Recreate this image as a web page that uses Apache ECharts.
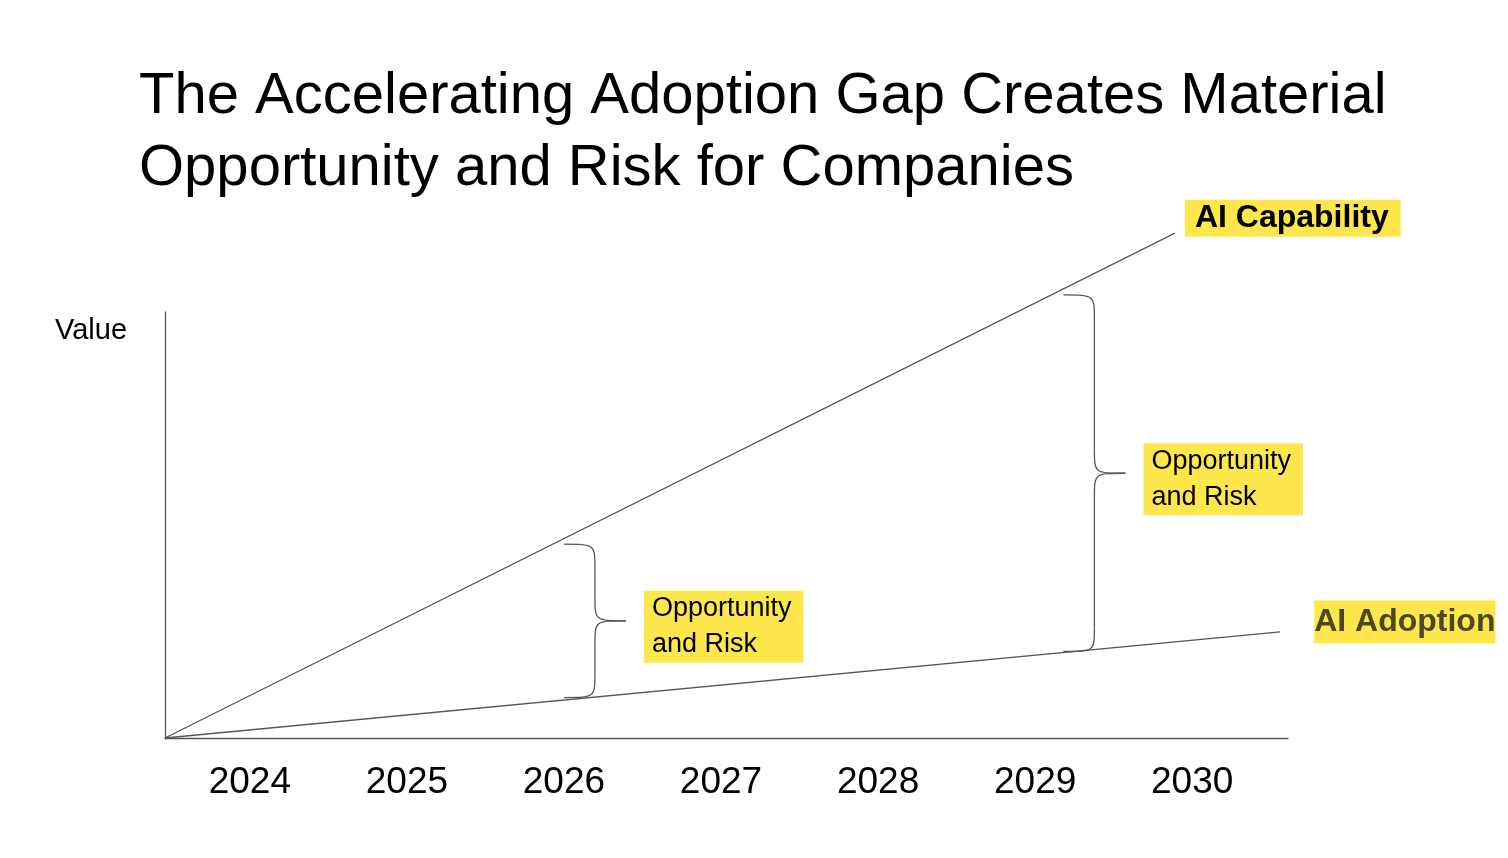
<!DOCTYPE html>
<html><head><meta charset="utf-8">
<script src="https://cdn.jsdelivr.net/npm/echarts@6/dist/echarts.min.js"></script>
<style>html,body{margin:0;background:#fff}#main{width:1508px;height:858px}</style>
</head><body><div id="main"></div>
<script>
var years = [2024, 2025, 2026, 2027, 2028, 2029, 2030];
var capability = [[2023.46, 0], [2029.89, 118.5]];
var adoption = [[2023.46, 0], [2030.56, 24.9]];
// braces: [x year, bottom value, top value]
var braces = [[2026.0, 9.5, 45.5], [2029.18, 20.3, 104]];
var braceLabels = ['Opportunity\nand Risk', 'Opportunity\nand Risk'];

var myChart = echarts.init(document.getElementById('main'));
var font = 'Liberation Sans, Arial, sans-serif';
var lineStyle = {color: '#555', width: 1.3};
var option = {
    animation: false,
    title: {
        text: 'The Accelerating Adoption Gap Creates Material\nOpportunity and Risk for Companies',
        left: 134, top: 56,
        textStyle: {fontFamily: font, fontSize: 58, fontWeight: 'normal', color: '#000', lineHeight: 72}
    },
    grid: {left: 165, right: 220, top: 312, bottom: 120},
    xAxis: {
        type: 'value', min: 2023.46, max: 2030.61,
        splitLine: {show: false},
        axisLine: {lineStyle: lineStyle},
        axisTick: {show: false},
        axisLabel: {customValues: years, formatter: function (v) { return String(Math.round(v)); },
            fontFamily: font, fontSize: 37, color: '#000', margin: 26}
    },
    yAxis: {
        type: 'value', min: 0, max: 100,
        splitLine: {show: false},
        axisLine: {show: true, lineStyle: lineStyle},
        axisTick: {show: false}, axisLabel: {show: false}
    },
    series: [{
        type: 'line', data: capability, symbol: 'none', clip: false, lineStyle: lineStyle,
        endLabel: {show: true, formatter: 'AI Capability', fontFamily: font, fontSize: 32, fontWeight: 'bold',
            color: '#000', backgroundColor: '#fde74c', padding: [3, 12, 2, 10], offset: [2, -15]}
    }, {
        type: 'line', data: adoption, symbol: 'none', clip: false, lineStyle: lineStyle,
        endLabel: {show: true, formatter: 'AI Adoption', fontFamily: font, fontSize: 32, fontWeight: 'bold',
            color: '#4d4822', backgroundColor: '#fde74c', padding: [6, 0, 5, 0], offset: [26, -10]}
    }]
};
myChart.setOption(option);

var stroke = {fill: null, stroke: '#555', lineWidth: 1.3};
function brace(x, yTop, yBot, w) {
    var yMid = (yTop + yBot) / 2, h = w / 2, r = Math.min(24, (yBot - yTop) / 6), xm = x + h;
    function bz(x1, y1, cx, cy, x2, y2) {
        return {type: 'bezierCurve', shape: {x1: x1, y1: y1, x2: x2, y2: y2, cpx1: cx, cpy1: cy, cpx2: cx, cpy2: cy}, style: stroke};
    }
    function ln(y1, y2) {
        return {type: 'line', shape: {x1: xm, y1: y1, x2: xm, y2: y2}, style: stroke};
    }
    return [
        bz(x, yTop, xm, yTop, xm, yTop + r), ln(yTop + r, yMid - r),
        bz(xm, yMid - r, xm, yMid, x + w, yMid), bz(x + w, yMid, xm, yMid, xm, yMid + r),
        ln(yMid + r, yBot - r), bz(xm, yBot - r, xm, yBot, x, yBot)
    ];
}
var graphics = [{
    type: 'text', left: 55, top: 316,
    style: {text: 'Value', font: '29px ' + font, fill: '#000'}
}];
braces.forEach(function (b, i) {
    var top = myChart.convertToPixel({gridIndex: 0}, [b[0], b[2]]);
    var bot = myChart.convertToPixel({gridIndex: 0}, [b[0], b[1]]);
    graphics = graphics.concat(brace(top[0], top[1], bot[1], 62));
    var ym = (top[1] + bot[1]) / 2;
    graphics.push({type: 'text', x: top[0] + 80, y: ym - 30,
        style: {text: braceLabels[i], font: '27px ' + font, fill: '#000', lineHeight: 36,
            backgroundColor: '#fde74c', padding: [0, 12, 0, 8]}});
});
myChart.setOption({graphic: graphics});
</script></body></html>
